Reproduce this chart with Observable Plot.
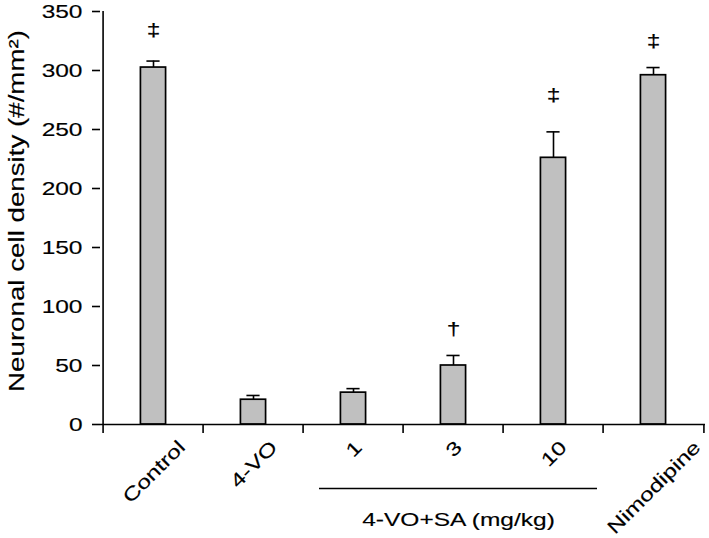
<!DOCTYPE html>
<html><head><meta charset="utf-8">
<script src="https://cdn.jsdelivr.net/npm/d3@7"></script>
<script src="https://cdn.jsdelivr.net/npm/@observablehq/plot@0.6"></script>
<style>html,body{margin:0;padding:0;background:#fff}#chart svg{display:block}</style>
</head><body><div id="chart"></div>
<script>
// ---- data ----
const categories = ["Control", "4-VO", "1", "3", "10", "Nimodipine"];
const means = [302.5, 21, 27, 50, 226, 296];
const errors = [5.5, 3.6, 3.4, 8.5, 22, 6.5];
const sigSymbols = ["‡", "", "", "†", "‡", "‡"];
const sigValues = [334, null, null, 81, 279, 325];
const yTicks = [0, 50, 100, 150, 200, 250, 300, 350];
const yLabel = "Neuronal cell density (#/mm²)";
const groupLabel = "4-VO+SA (mg/kg)";
const groupStart = "1", groupEnd = "10";

// ---- layout ----
const W = 709, H = 538, ML = 100, MR = 4, MT = 11, MB = 114;
const bw = (W - ML - MR) / categories.length;
const SX = 1.29;      // horizontal stretch of the reference's wide lettering
const SXY = 1.26;
const FS = 19;

const data = categories.map((c, i) => ({cat: c, mean: means[i], upper: means[i] + errors[i]}));
const ann = categories.map((c, i) => ({cat: c, sym: sigSymbols[i], v: sigValues[i]})).filter(d => d.sym);

const ctx = document.createElement("canvas").getContext("2d");
ctx.font = `${FS}px "Liberation Sans"`;
const xLabelMarks = categories.map(c => {
  const w = ctx.measureText(c).width * SX;
  return Plot.text([c], {
    x: d => d, text: d => d, frameAnchor: "bottom", rotate: -45,
    textAnchor: "end", lineAnchor: "bottom", fontSize: FS,
    dx: 0.7071 * (w + 13.6) / 2, dy: 24
  });
});
const midCat = categories[categories.indexOf(groupStart) + 1];

const chart = Plot.plot({
  width: W, height: H,
  marginLeft: ML, marginRight: MR, marginTop: MT, marginBottom: MB,
  style: {fontFamily: '"Liberation Sans", Arial, sans-serif', fontSize: FS + "px", color: "black", background: "white", overflow: "visible"},
  x: {type: "band", domain: categories, padding: 0, axis: null},
  y: {domain: [0, 350], axis: null},
  marks: [
    Plot.ruleX(data, {x: "cat", y1: "mean", y2: "upper", stroke: "black", strokeWidth: 1.6}),
    Plot.tickY(data, {x: "cat", y: "upper", stroke: "black", strokeWidth: 1.6, insetLeft: (bw - 14) / 2, insetRight: (bw - 14) / 2}),
    Plot.barY(data, {x: "cat", y: "mean", fill: "#c0c0c0", stroke: "black", strokeWidth: 1.7, insetLeft: (bw - 26) / 2, insetRight: (bw - 26) / 2}),
    Plot.ruleY([0], {stroke: "black", strokeWidth: 1.6}),
    Plot.ruleX([categories[0]], {x: d => d, y1: () => 0, y2: () => 350, dx: -bw / 2, stroke: "black", strokeWidth: 1.6}),
    Plot.axisY({ticks: yTicks, tickSize: 8, tickPadding: 10, fontSize: FS, label: null, strokeWidth: 1.6}),
    Plot.axisX({tickSize: 9, dx: -bw / 2, tickFormat: () => "", label: null, strokeWidth: 1.6}),
    Plot.axisX([categories[categories.length - 1]], {tickSize: 9, dx: bw / 2, tickFormat: () => "", label: null, strokeWidth: 1.6}),
    ...xLabelMarks,
    Plot.text(ann, {x: "cat", y: "v", text: "sym", fontSize: 19}),
    Plot.ruleY([0], {x1: () => groupStart, x2: () => groupEnd, dy: 64, insetLeft: 16, insetRight: 6, stroke: "black", strokeWidth: 1.5}),
    Plot.text([groupLabel], {x: () => midCat, text: d => d, frameAnchor: "bottom", lineAnchor: "bottom", dx: 5, dy: 101, fontSize: FS}),
    Plot.text([yLabel], {frameAnchor: "left", text: d => d, rotate: -90, textAnchor: "middle", lineAnchor: "bottom", dx: -77, dy: -7, fontSize: 22})
  ]
});

// stretch lettering along its baseline, as in the reference
chart.querySelectorAll("text").forEach(el => {
  const s = el.textContent === yLabel ? SXY : SX;
  const t = el.getAttribute("transform") || "";
  el.setAttribute("transform", (t + ` scale(${s},1)`).trim());
  el.style.stroke = "black";
  el.style.strokeWidth = "0.15px";
});
document.getElementById("chart").appendChild(chart);
</script>
</body></html>
